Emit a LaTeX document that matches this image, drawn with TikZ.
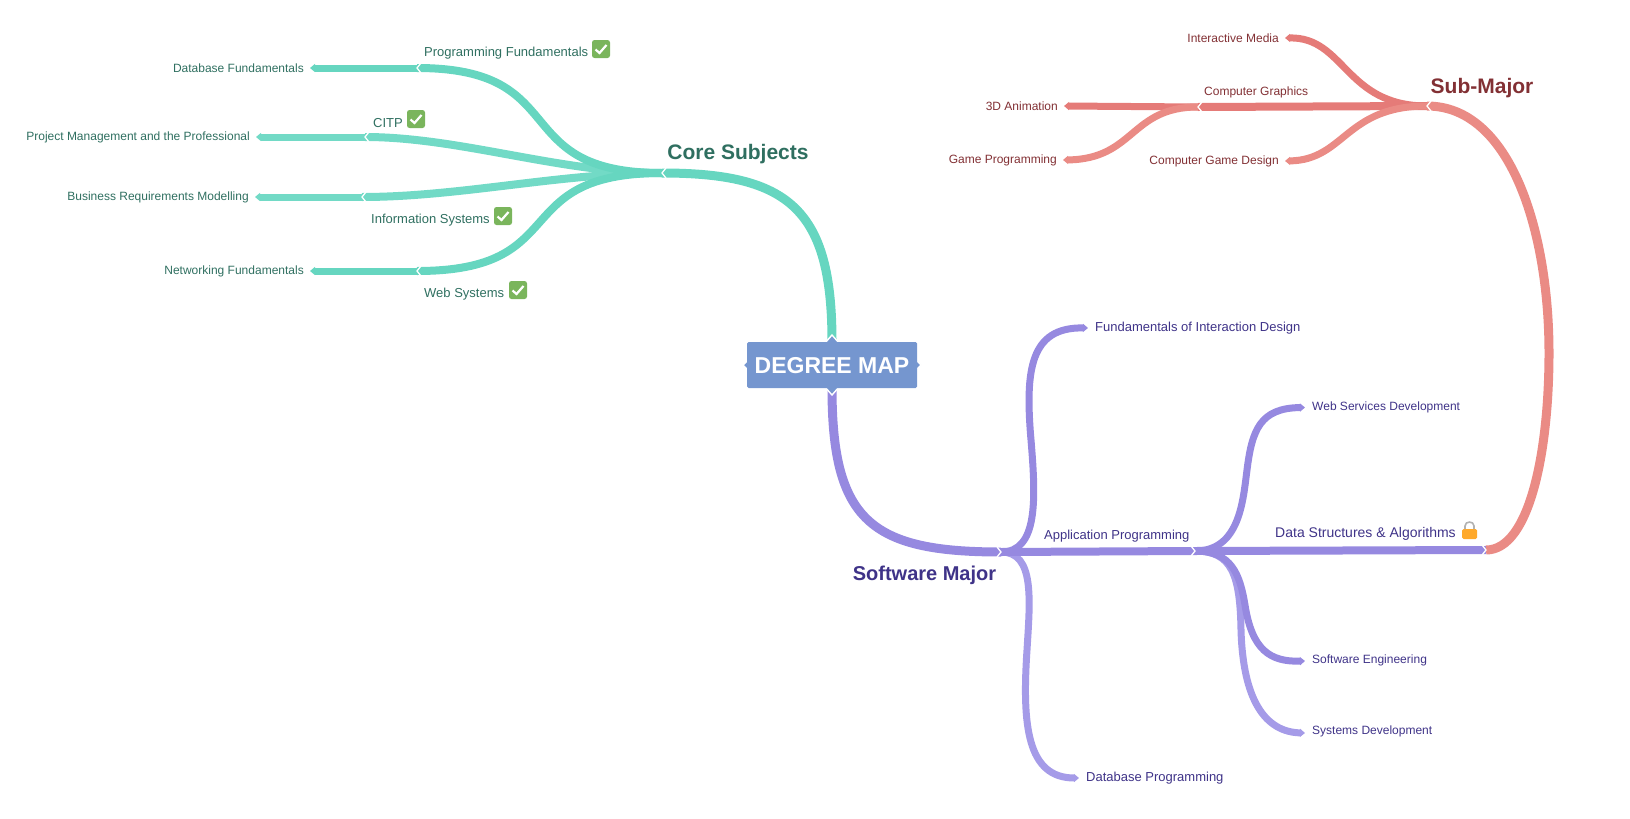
\documentclass[tikz,border=0pt]{standalone}
\usepackage{fontspec}
\setmainfont{Liberation Sans}
\usetikzlibrary{arrows.meta}
\definecolor{rootblue}{HTML}{7596CF}
\definecolor{coreline}{HTML}{66D6C0}
\definecolor{corepale}{HTML}{72DAC6}
\definecolor{coretext}{HTML}{2F6F60}
\definecolor{softline}{HTML}{9689E0}
\definecolor{softpale}{HTML}{A59BE8}
\definecolor{softtext}{HTML}{3F3388}
\definecolor{subline}{HTML}{E57B78}
\definecolor{subpale}{HTML}{EA8B85}
\definecolor{subtext}{HTML}{823034}
\definecolor{okgreen}{HTML}{7AB55C}
\definecolor{lockorange}{HTML}{FFA92B}
\tikzset{
  big/.style={font=\bfseries\fontsize{21}{24}\selectfont},
  mid/.style={font=\fontsize{13}{16}\selectfont},
  small/.style={font=\fontsize{12}{14}\selectfont},
  leafl/.style={anchor=east,inner xsep=6pt,inner ysep=0pt},
  leafr/.style={anchor=west,inner xsep=7pt,inner ysep=0pt},
  tagl/.style={anchor=west,inner sep=0pt},
  tip/.style={-{Triangle[length=5pt,width=8pt]}},
  main/.style={line width=9pt},
  branch/.style={line width=8pt},
  leafline/.style={line width=7pt,tip},
  notch/.style={white,line width=1.3pt},
  okbox/.style={fill=okgreen,rounded corners=2.5pt,minimum size=18pt,inner sep=0pt},
  tick/.style={white,line width=2.2pt},
  bump/.style={fill=rootblue,draw=white,line width=1.4pt}
}
\begin{document}
\begin{tikzpicture}[x=1pt,y=-1pt]
\useasboundingbox (0,0) rectangle (1630,819);

% Junctions
\coordinate (cCore) at (662,173);
\coordinate (cProg) at (417,68);
\coordinate (cCitp) at (365,137);
\coordinate (cInfo) at (362,197);
\coordinate (cWeb) at (417,271);
\coordinate (cSoft) at (1001,552);
\coordinate (cApp) at (1195,551);
\coordinate (cData) at (1486,550);
\coordinate (cSub) at (1427,106);
\coordinate (cGfx) at (1198,107);

% Texts
\node[big,text=coretext] (core) at (738,154) {Core Subjects};
\node[big,text=softtext,font=\bfseries\fontsize{20}{24}\selectfont] (soft) at (924.5,575) {Software Major};
\node[big,text=subtext] (sub) at (1482,88) {Sub-Major};

\node[mid,tagl,text=coretext] (prog) at (424,53) {Programming Fundamentals};
\node[mid,tagl,text=coretext] (citp) at (373,123) {CITP};
\node[mid,tagl,text=coretext] (info) at (371,220) {Information Systems};
\node[mid,tagl,text=coretext] (web) at (424,294) {Web Systems};
\node[small,leafl,text=coretext] (dbfund) at (310,68) {Database Fundamentals};
\node[small,leafl,text=coretext] (pmp) at (256,137) {Project Management and the Professional};
\node[small,leafl,text=coretext] (brm) at (255,197) {Business Requirements Modelling};
\node[small,leafl,text=coretext] (netf) at (310,271) {Networking Fundamentals};

\node[mid,leafr,text=softtext] (fid) at (1088,328) {Fundamentals of Interaction Design};
\node[mid,leafr,text=softtext] (dbprog) at (1079,778) {Database Programming};
\node[mid,tagl,text=softtext] (app) at (1044,536) {Application Programming};
\node[tagl,text=softtext,font=\fontsize{14}{16}\selectfont] (dsa) at (1275,534) {Data Structures \& Algorithms};
\node[small,leafr,text=softtext] (wsd) at (1305,407.5) {Web Services Development};
\node[small,leafr,text=softtext] (swe) at (1305,660) {Software Engineering};
\node[small,leafr,text=softtext] (sysd) at (1305,731) {Systems Development};

\node[small,leafl,text=subtext] (imedia) at (1285,38) {Interactive Media};
\node[small,leafl,text=subtext] (cgd) at (1285,161) {Computer Game Design};
\node[small,leafl,text=subtext] (anim) at (1064,106) {3D Animation};
\node[small,leafl,text=subtext] (gprog) at (1063,160) {Game Programming};
\node[small,tagl,text=subtext] (gfx) at (1204,92) {Computer Graphics};

% Teal side
\draw[leafline,coreline] (cProg) -- (dbfund.east);
\draw[leafline,corepale] (cCitp) -- (pmp.east);
\draw[leafline,corepale] (cInfo) -- (brm.east);
\draw[leafline,coreline] (cWeb) -- (netf.east);
\draw[branch,corepale] (cCore) .. controls (560,173) and (460,137) .. (cCitp);
\draw[branch,corepale] (cCore) .. controls (560,173) and (460,197) .. (cInfo);
\draw[branch,coreline] (cCore) .. controls (505,173) and (575,68) .. (cProg);
\draw[branch,coreline] (cCore) .. controls (505,173) and (575,271) .. (cWeb);

% Purple side
\draw[leafline,softline] (cSoft) .. controls (1038,552) and (1036,500) .. (1031,440) .. controls (1025,370) and (1030,327) .. (fid.west);
\draw[leafline,softpale] (cSoft) .. controls (1035,552) and (1030,600) .. (1027,650) .. controls (1022,725) and (1027,778) .. (dbprog.west);
\draw[branch,softline] (cSoft) -- (cApp);
\draw[leafline,softline] (cApp) .. controls (1240,551) and (1243,500) .. (1247,470) .. controls (1252,430) and (1260,408) .. (wsd.west);
\draw[leafline,softpale] (cApp) .. controls (1232,551) and (1240,575) .. (1241,630) .. controls (1243,700) and (1265,732) .. ([yshift=-2]sysd.west);
\draw[leafline,softline] (cApp) .. controls (1232,551) and (1240,575) .. (1245,605) .. controls (1252,650) and (1270,662) .. ([yshift=-1]swe.west);
\draw[branch,softline] (cApp) -- (cData);

% Red side
\draw[leafline,subline] (cGfx) -- (anim.east);
\draw[leafline,subpale] (cGfx) .. controls (1130,107) and (1135,159) .. (gprog.east);
\draw[branch,subline] (cSub) -- (cGfx);
\draw[leafline,subline] (cSub) .. controls (1345,106) and (1345,37) .. (imedia.east);
\draw[leafline,subpale] (cSub) .. controls (1345,106) and (1345,160) .. (cgd.east);
\draw[main,subpale] (cData) .. controls (1530,550) and (1549,450) .. (1549,353) .. controls (1549,230) and (1510,106) .. (cSub);

% Root
\coordinate (rootc) at (832,365);
\draw[main,coreline] (832,342) .. controls (832,210) and (790,173) .. (cCore);
\draw[main,softline] (832,388) .. controls (832,520) and (870,552) .. (cSoft);
\filldraw[bump] (825,343) -- (832,335) -- (839,343) -- cycle;
\filldraw[bump] (825,387) -- (832,395) -- (839,387) -- cycle;
\filldraw[bump] (748,360) -- (743,365) -- (748,370) -- cycle;
\filldraw[bump] (916,360) -- (921,365) -- (916,370) -- cycle;
\node[fill=rootblue,text=white,rounded corners=1.5pt,minimum width=170pt,minimum height=46pt,inner sep=0pt,font=\bfseries\fontsize{23}{26}\selectfont,text depth=0pt] (root) at (rootc) {DEGREE MAP};

% Chevrons where one line meets the next
\foreach \j in {cCore,cProg,cCitp,cInfo,cWeb,cSub,cGfx}
  \draw[notch] ([shift={(4,-5)}]\j) -- (\j) -- ([shift={(4,5)}]\j);
\foreach \j in {cSoft,cApp,cData}
  \draw[notch] ([shift={(-4,-5)}]\j) -- (\j) -- ([shift={(-4,5)}]\j);

% Done marks
\node[okbox] (okprog) at (601,49) {};
\node[okbox] (okcitp) at (416,119) {};
\node[okbox] (okinfo) at (503,216) {};
\node[okbox] (okweb) at (518,290) {};
\foreach \k in {okprog,okcitp,okinfo,okweb}
  \draw[tick] ([shift={(-5.5,0.5)}]\k.center) -- ([shift={(-1.5,4)}]\k.center) -- ([shift={(5.5,-4)}]\k.center);

% Lock
\node[fill=lockorange,rounded corners=1.5pt,minimum width=15pt,minimum height=10pt,inner sep=0pt] (lock) at (1469.5,534) {};
\draw[line width=1.6pt,color=gray!60] ([shift={(-4.5,-5)}]lock.center) -- ([shift={(-4.5,-8)}]lock.center) .. controls ([shift={(-4.5,-13.3)}]lock.center) and ([shift={(4.5,-13.3)}]lock.center) .. ([shift={(4.5,-8)}]lock.center) -- ([shift={(4.5,-5)}]lock.center);

\end{tikzpicture}
\end{document}
